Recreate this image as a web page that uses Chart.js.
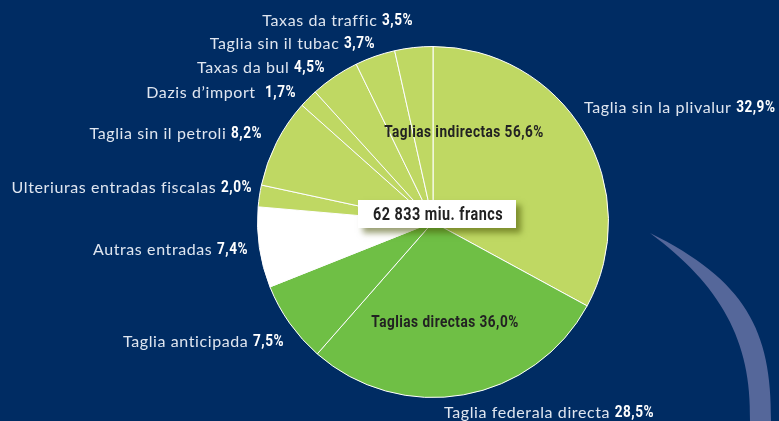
<!DOCTYPE html>
<html>
<head>
<meta charset="utf-8">
<script src="https://cdn.jsdelivr.net/npm/chart.js@4/dist/chart.umd.min.js"></script>
<style>
  html, body { margin: 0; padding: 0; background: #002c63; }
  #wrap { width: 779px; height: 421px; }
</style>
</head>
<body>
<div id="wrap"><canvas id="myGraphic"></canvas></div>
<script>
// slices clockwise from 12 o'clock
const categories = [
	"Taglia sin la plivalur",
	"Taglia federala directa",
	"Taglia anticipada",
	"Autras entradas",
	"Ulteriuras entradas fiscalas",
	"Taglia sin il petroli",
	"Dazis d’import ",
	"Taxas da bul",
	"Taglia sin il tubac",
	"Taxas da traffic",
];
const shares = [32.9, 28.5, 7.5, 7.4, 2.0, 8.2, 1.7, 4.5, 3.7, 3.5];
const shareLabels = ["32,9%", "28,5%", "7,5%", "7,4%", "2,0%", "8,2%", "1,7%", "4,5%", "3,7%", "3,5%"];
const groups = ["indirect", "direct", "direct", "other", "indirect", "indirect", "indirect", "indirect", "indirect", "indirect"];
const groupTitles = ["Taglias indirectas 56,6%", "Taglias directas 36,0%"];
const totalLabel = "62 833 miu. francs";

const groupColors = { indirect: "#bfd863", direct: "#6fbf45", other: "#ffffff" };

// where each outside label sits: x, y, alignment
const labelPos = [
	{ x: 584, y: 108, align: "left" },
	{ x: 444, y: 413, align: "left" },
	{ x: 284, y: 342, align: "right" },
	{ x: 248, y: 250, align: "right" },
	{ x: 252, y: 188, align: "right" },
	{ x: 262, y: 134, align: "right" },
	{ x: 296, y: 93, align: "right" },
	{ x: 325, y: 68, align: "right" },
	{ x: 375, y: 44, align: "right" },
	{ x: 413, y: 21, align: "right" },
];

const plainFont = "16px Lato";
const boldFont = "bold 17px Roboto";
const narrow = 0.8;

// bold condensed text: draw a squeezed Roboto
function narrowWidth(c, text, font) {
	c.font = font;
	return c.measureText(text).width * narrow;
}
function narrowText(c, text, x, y, font) {
	c.save();
	c.font = font;
	c.textAlign = "left";
	c.translate(x, y);
	c.scale(narrow, 1);
	c.fillText(text, 0, 0);
	c.restore();
}

const background = {
	id: "background",
	beforeDraw(chart) {
		const c = chart.ctx;
		c.save();
		c.fillStyle = "#002c63";
		c.fillRect(0, 0, chart.width, chart.height);
		// the swoosh on the right
		c.fillStyle = "#55679a";
		c.beginPath();
		c.moveTo(650, 233);
		c.bezierCurveTo(745, 280, 772, 330, 771, 421);
		c.lineTo(750, 421);
		c.bezierCurveTo(752, 340, 720, 285, 650, 233);
		c.fill();
		c.restore();
	},
};

const labels = {
	id: "labels",
	afterDraw(chart) {
		const c = chart.ctx;
		const arc = chart.getDatasetMeta(0).data[0];
		const cx = arc.x;
		const cy = arc.y;
		c.save();
		c.textBaseline = "middle";
		c.letterSpacing = "0.6px";
		categories.forEach((name, i) => {
			const p = labelPos[i];
			c.font = plainFont;
			const w1 = c.measureText(name + " ").width;
			const w2 = narrowWidth(c, shareLabels[i], boldFont);
			const left = p.align === "left" ? p.x : p.x - w1 - w2;
			c.fillStyle = "#dfe6f0";
			c.font = plainFont;
			c.textAlign = "left";
			c.fillText(name + " ", left, p.y);
			c.fillStyle = "#ffffff";
			narrowText(c, shareLabels[i], left + w1, p.y, boldFont);
		});

		// group titles inside the pie
		c.fillStyle = "#222222";
		const titleFont = "bold 17px Roboto";
		let w = narrowWidth(c, groupTitles[0], titleFont);
		narrowText(c, groupTitles[0], cx + 31 - w / 2, cy - 89, titleFont);
		w = narrowWidth(c, groupTitles[1], titleFont);
		narrowText(c, groupTitles[1], cx + 12 - w / 2, cy + 101, titleFont);

		// total box
		c.save();
		c.shadowColor = "rgba(70, 80, 0, 0.55)";
		c.shadowBlur = 6;
		c.shadowOffsetX = 5;
		c.shadowOffsetY = 5;
		c.fillStyle = "#ffffff";
		c.fillRect(cx - 75, cy - 22, 158, 28);
		c.restore();
		c.fillStyle = "#222222";
		narrowText(c, totalLabel, cx - 60, cy - 7, "bold 18px Roboto");
		c.restore();
	},
};

const ctx = document.getElementById("myGraphic").getContext("2d");
const myGraphic = new Chart(ctx, {
	type: "pie",
	data: {
		labels: categories,
		datasets: [
			{
				data: shares,
				backgroundColor: groups.map((g) => groupColors[g]),
				borderColor: "#ffffff",
				borderWidth: 1,
			},
		],
	},
	options: {
		responsive: true,
		maintainAspectRatio: false,
		animation: false,
		layout: {
			padding: { left: 257, right: 170, top: 46, bottom: 23 },
		},
		plugins: {
			legend: { display: false },
			tooltip: { enabled: false },
		},
	},
	plugins: [background, labels],
});
</script>
</body>
</html>
